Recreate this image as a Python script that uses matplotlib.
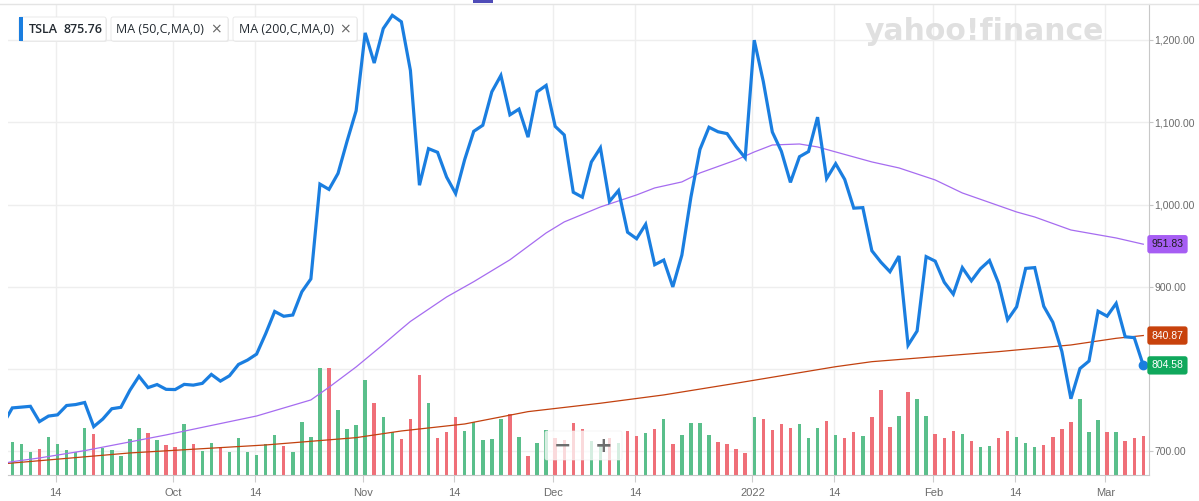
import numpy as np
import pandas as pd
import matplotlib.pyplot as plt
from matplotlib.patches import FancyBboxPatch, Rectangle
from matplotlib.lines import Line2D
from matplotlib.transforms import blended_transform_factory, IdentityTransform
from matplotlib.ticker import FuncFormatter

# trading days shown (Sep 3 is only partly visible at the left edge)
holidays = ['2021-09-06', '2021-11-25', '2021-12-24', '2022-01-17', '2022-02-21']
dates = pd.bdate_range('2021-09-03', '2022-03-07')
dates = dates[~dates.isin(pd.to_datetime(holidays))]

# TSLA daily close
close = [733.57, 752.92, 753.87, 754.86, 736.27, 743.00, 744.49, 755.83, 756.99, 759.49,
         730.17, 739.38, 751.94, 753.64, 774.39, 791.36, 777.56, 781.31, 775.48,
         775.22, 781.53, 780.59, 782.75, 793.61, 785.49, 791.94, 805.72, 811.08, 818.32,
         843.03, 870.11, 864.27, 865.80, 894.00, 909.68, 1024.86, 1018.43, 1037.86, 1077.04, 1114.00,
         1208.59, 1172.00, 1213.86, 1229.91, 1222.09, 1162.94, 1023.50, 1067.95, 1063.51, 1033.42,
         1013.39, 1054.73, 1089.01, 1096.38, 1137.06, 1156.87, 1109.03, 1116.00, 1081.92, 1136.99, 1144.76,
         1095.00, 1084.60, 1014.97, 1009.01, 1051.75, 1068.96, 1003.80, 1017.03, 966.41, 958.51,
         975.99, 926.92, 932.57, 899.94, 938.53, 1008.87, 1067.00, 1093.94, 1088.47, 1086.19, 1070.34, 1056.78,
         1199.78, 1149.59, 1088.12, 1064.70, 1026.96, 1058.12, 1064.40, 1106.22, 1031.56, 1049.61,
         1030.51, 995.65, 996.27, 943.90, 930.00, 918.40, 937.41, 829.10, 846.35, 936.72,
         931.25, 905.66, 891.14, 923.32, 907.34, 922.00, 932.00, 904.55, 860.00, 875.76,
         922.43, 923.39, 876.35, 856.98, 821.53, 764.04, 800.77, 809.87, 870.43,
         864.37, 879.89, 839.29, 838.29, 804.58]

# volume in millions, from Sep 7
volume = [19.6, 18.3, 13.7, 15.1, 22.4, 18.3, 14.9, 13.7, 27.7, 24.3,
          15.9, 14.9, 11.4, 21.2, 27.7, 24.9, 20.6, 17.9, 16.5, 30.0,
          18.3, 14.3, 19.0, 16.3, 13.7, 22.0, 13.7, 11.8, 18.1, 23.6,
          17.1, 13.7, 31.4, 22.6, 62.8, 62.8, 38.3, 27.1, 29.6, 56.0,
          42.6, 34.3, 25.1, 21.4, 33.2, 58.9, 42.6, 22.0, 25.1, 34.3,
          26.1, 31.2, 20.6, 21.4, 32.8, 35.9, 22.4, 11.2, 19.0, 26.5,
          21.6, 20.6, 30.8, 27.1, 20.0, 18.0, 22.0, 19.0, 25.9, 23.0,
          24.9, 27.1, 33.2, 18.3, 23.8, 30.8, 30.8, 23.8, 19.6, 18.3,
          15.5, 13.0, 34.3, 33.0, 26.7, 30.2, 27.9, 30.0, 21.8, 27.7,
          32.0, 23.8, 21.8, 25.1, 23.0, 34.3, 50.3, 28.5, 34.8, 48.9,
          44.8, 34.8, 24.3, 22.0, 25.9, 24.1, 20.2, 16.7, 17.3, 22.0,
          25.9, 22.4, 19.0, 16.7, 17.7, 22.6, 27.3, 31.4, 44.8, 25.1,
          32.4, 25.1, 25.1, 20.2, 22.0, 23.0]

# moving averages
ma50_dates = ['2021-09-03', '2021-09-07', '2021-09-10', '2021-09-17', '2021-09-30', '2021-10-14',
              '2021-10-22', '2021-10-26', '2021-10-29', '2021-11-03', '2021-11-05', '2021-11-08',
              '2021-11-12', '2021-11-17', '2021-11-23', '2021-11-30', '2021-12-02', '2021-12-08',
              '2021-12-14', '2021-12-16', '2021-12-21', '2021-12-23', '2021-12-30', '2022-01-03',
              '2022-01-05', '2022-01-10', '2022-01-12', '2022-01-21', '2022-01-26', '2022-02-01',
              '2022-02-04', '2022-02-14', '2022-02-16', '2022-02-23', '2022-03-02', '2022-03-07']
ma50 = [685.5, 687.6, 692.1, 701.0, 720.1, 743.1, 762.6, 778.0, 802.7, 830.0, 848.8, 858.0,
        887.7, 906.3, 932.9, 965.5, 978.9, 997.1, 1011.7, 1020.2, 1027.5, 1038.4, 1054.2, 1063.9,
        1072.4, 1073.6, 1070.0, 1051.8, 1044.5, 1029.9, 1014.1, 991.0, 984.9, 969.1, 959.4, 951.83]

ma200_dates = ['2021-09-03', '2021-09-24', '2021-10-15', '2021-10-29', '2021-11-05', '2021-11-16',
               '2021-11-26', '2021-12-08', '2021-12-17', '2021-12-30', '2022-01-10', '2022-01-14',
               '2022-01-21', '2022-02-01', '2022-02-10', '2022-02-23', '2022-03-02', '2022-03-07']
ma200 = [685.0, 698.2, 707.9, 716.8, 724.9, 733.4, 748.4, 758.6, 768.7, 782.9, 795.7, 803.0,
         809.1, 815.2, 821.3, 829.4, 837.5, 840.87]

tick_dates = ['2021-09-14', '2021-10-01', '2021-10-14', '2021-11-01', '2021-11-14', '2021-12-01',
              '2021-12-14', '2022-01-03', '2022-01-14', '2022-02-01', '2022-02-14', '2022-03-01']
tick_labels = ['14', 'Oct', '14', 'Nov', '14', 'Dec', '14', '2022', '14', 'Feb', '14', 'Mar']

price_ticks = [700, 800, 900, 1000, 1100, 1200]

W, H = 1199, 501
blue = '#1a7ee0'
green = '#5abf8b'
red = '#ef6f78'

x = np.arange(len(dates))
bar_colors = np.where(np.diff(close) >= 0, green, red)
ma50_x = np.searchsorted(dates, pd.to_datetime(ma50_dates))
ma200_x = np.searchsorted(dates, pd.to_datetime(ma200_dates))
tick_x = np.searchsorted(dates, pd.to_datetime(tick_dates)) - 0.2

fig = plt.figure(figsize=(W / 100, H / 100), dpi=100)
rect = [8 / W, 26 / H, 1141 / W, 471 / H]
ax_vol = fig.add_axes(rect)
ax = fig.add_axes(rect, sharex=ax_vol)
ax.patch.set_alpha(0)

# volume
ax_vol.bar(x[1:], volume, width=0.38, color=bar_colors, zorder=2)
ax_vol.set_ylim(0, 277.4)
ax_vol.set_xlim(0.525, 126.63)
ax_vol.set_yticks([])
ax_vol.set_xticks(tick_x, tick_labels)
ax_vol.grid(axis='x', color='#eeeeee', lw=1, zorder=0)
ax_vol.tick_params(axis='x', length=5, color='#cccccc', labelsize=8, labelcolor='#6b6b6b', pad=4)
for lab in ax_vol.get_xticklabels():
    lab.set_fontfamily('Liberation Sans')
ax_vol.spines['left'].set_visible(False)
ax_vol.spines['top'].set_visible(False)
ax_vol.spines['right'].set_color('#c8c8c8')
ax_vol.spines['bottom'].set_color('#c8c8c8')

# horizontal grid behind the bars, on the price scale
tr = blended_transform_factory(ax_vol.transAxes, ax.transData)
for p in price_ticks:
    ax_vol.plot([0, 1], [p, p], transform=tr, color='#eeeeee', lw=1, zorder=0)

# price and averages
ax.plot(ma200_x, ma200, color='#c2410f', lw=0.9, zorder=3)
ax.plot(ma50_x, ma50, color='#a66cf0', lw=0.9, zorder=3)
ax.plot(x, close, color=blue, lw=2.3, zorder=4, solid_joinstyle='miter')
ax.plot(x[-1], close[-1], 'o', color=blue, ms=6, zorder=5, clip_on=False)
ax.set_ylim(671.4, 1243.7)
ax.yaxis.tick_right()
ax.set_yticks(price_ticks)
# the 800 label sits under the last-price box
ax.yaxis.set_major_formatter(FuncFormatter(lambda v, pos: '' if v == 800 else f'{v:,.2f}'))
ax.tick_params(axis='y', length=3, color='#c8c8c8', labelsize=7.5, labelcolor='#6b6b6b', pad=0.8)
for lab in ax.get_yticklabels():
    lab.set_fontfamily('Liberation Sans')
ax.tick_params(axis='x', bottom=False, labelbottom=False)
for s in ax.spines.values():
    s.set_visible(False)

# last value labels on the right axis
tr_r = blended_transform_factory(ax.transAxes, ax.transData)
for val, fc, tc in [(ma50[-1], '#a65df3', '#1e1e1e'), (ma200[-1], '#c8420c', 'white'), (close[-1], '#10a85c', 'white')]:
    ax.text(1.0 + 2.5 / 1141, val, f'{val:.2f}', transform=tr_r, ha='left', va='center',
            fontsize=7.5, color=tc, family='Liberation Sans', zorder=10, clip_on=False,
            bbox=dict(boxstyle='round,pad=0.4,rounding_size=0.25', fc=fc, ec='none'))

# top border line and small indicator
fig.add_artist(Line2D([0, 1], [1 - 4 / H, 1 - 4 / H], color='#e4e4e4', lw=1))
fig.add_artist(Rectangle((473 / W, 1 - 3 / H), 20 / W, 3 / H, color='#4f4cb8', lw=0))

# watermark
fig.text(984 / W, 1 - 31 / H, 'yahoo!finance', ha='center', va='center', fontsize=21.5,
         weight='heavy', color='#e0e0e0', family='DejaVu Sans')

# legend chips
idt = IdentityTransform()
chips = [(19, 106), (111, 228), (233, 357)]
for x0, x1 in chips:
    fig.add_artist(FancyBboxPatch((x0 + 1, H - 42), x1 - x0, 24, boxstyle='round,pad=0,rounding_size=2',
                                  fc='#ececec', ec='none', transform=idt, zorder=4))
    fig.add_artist(FancyBboxPatch((x0, H - 41), x1 - x0, 24, boxstyle='round,pad=0,rounding_size=2',
                                  fc='white', ec='#e6e6e6', lw=0.6, transform=idt, zorder=5))
fig.add_artist(Rectangle((19, H - 41), 4, 24, color=blue, lw=0, transform=idt, zorder=6))
ty = 1 - 29.5 / H
fig.text(29 / W, ty, 'TSLA', ha='left', va='center', fontsize=9, weight='semibold',
         family='Open Sans', color='#232a31', zorder=7)
fig.text(63 / W, ty, '875.76', ha='left', va='center', fontsize=9, weight='semibold',
         family='Open Sans', color='#232a31', zorder=7)
fig.text(116 / W, ty, 'MA (50,C,MA,0)', ha='left', va='center', fontsize=9,
         family='Open Sans', color='#232a31', zorder=7)
fig.text(216 / W, ty, '×', ha='center', va='center', fontsize=10, family='DejaVu Sans', color='#666666', zorder=7)
fig.text(239 / W, ty, 'MA (200,C,MA,0)', ha='left', va='center', fontsize=9,
         family='Open Sans', color='#232a31', zorder=7)
fig.text(345 / W, ty, '×', ha='center', va='center', fontsize=10, family='DejaVu Sans', color='#666666', zorder=7)

# zoom buttons over the volume bars
fig.add_artist(FancyBboxPatch((545, H - 460), 77, 29, boxstyle='round,pad=0,rounding_size=2',
                              fc='white', ec='#eeeeee', lw=0.5, alpha=0.75, transform=idt, zorder=6))
fig.text(563 / W, 1 - 446 / H, '−', ha='center', va='center', fontsize=15, weight='bold',
         color='#6e6e6e', family='DejaVu Sans', zorder=7)
fig.text(604 / W, 1 - 446 / H, '+', ha='center', va='center', fontsize=15, weight='bold',
         color='#6e6e6e', family='DejaVu Sans', zorder=7)

fig.savefig('out.png', dpi=100, facecolor='white')
